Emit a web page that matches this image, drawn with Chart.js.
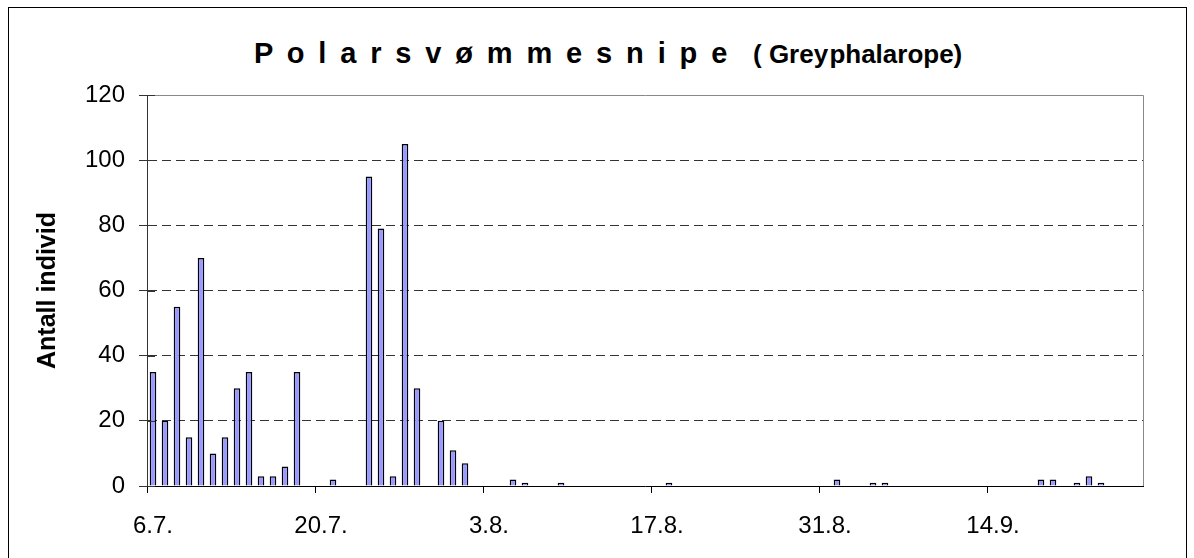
<!DOCTYPE html>
<html>
<head>
<meta charset="utf-8">
<script src="https://cdn.jsdelivr.net/npm/chart.js@4/dist/chart.umd.min.js"></script>
<style>
    body { margin: 0; background: #fff; font-family: 'Liberation Sans', Arial, sans-serif; }
    #frame { position: absolute; left: 8px; top: 7px; width: 1177px; height: 600px; border: 1px solid #000; }
    #wrap { position: absolute; left: 0; top: 0; width: 1194px; height: 558px; }
    .t-main { position: absolute; left: 254px; top: 39px; font-size: 29px; line-height: 29px; font-weight: bold; letter-spacing: 2.9px; white-space: pre; }
    .t-sub { position: absolute; left: 753px; top: 41px; font-size: 26px; line-height: 26px; font-weight: bold; white-space: pre; }
</style>
</head>
<body>
<div id="frame"></div>
<div class="t-main">P o l a r s v ø m m e s n i p e</div>
<div class="t-sub">( Grey <span style="margin-left:-6px">phalarope)</span></div>
<div id="wrap"><canvas id="chart" width="1194" height="558"></canvas></div>
<script>
// observation dates (d.m.) and number of birds counted
const obsDates = ['6.7.', '7.7.', '8.7.', '9.7.', '10.7.', '11.7.', '12.7.', '13.7.', '14.7.', '15.7.',
    '16.7.', '17.7.', '18.7.', '21.7.', '24.7.', '25.7.', '26.7.', '27.7.', '28.7.', '30.7.',
    '31.7.', '1.8.', '5.8.', '6.8.', '9.8.', '18.8.', '1.9.', '4.9.', '5.9.', '18.9.',
    '19.9.', '21.9.', '22.9.', '23.9.'];
const counts = [35, 20, 55, 15, 70, 10, 15, 30, 35, 3,
    3, 6, 35, 2, 95, 79, 3, 105, 30, 20,
    11, 7, 2, 1, 1, 1, 2, 1, 1, 2,
    2, 1, 3, 1];

const tickLabels = ['6.7.', '20.7.', '3.8.', '17.8.', '31.8.', '14.9.'];
const tickDays = [0, 14, 28, 42, 56, 70];
const axisDays = 83; // 6.7. - 27.9.
const yTicks = [0, 20, 40, 60, 80, 100, 120];

function dayOffset(s) {
    const [d, m] = s.split('.').map(Number);
    const start = Date.UTC(2001, 6, 6);
    return Math.round((Date.UTC(2001, m - 1, d) - start) / 86400000);
}

const points = obsDates.map((d, i) => ({x: dayOffset(d) + 0.5, y: counts[i]}));

const framePlugin = {
    id: 'frame',
    afterDraw(chart) {
        const {ctx, chartArea: a, scales} = chart;
        ctx.save();
        ctx.strokeStyle = '#888';
        ctx.lineWidth = 1;
        ctx.beginPath();
        ctx.moveTo(a.left, a.top + 0.5);
        ctx.lineTo(a.right + 0.5, a.top + 0.5);
        ctx.lineTo(a.right + 0.5, a.bottom);
        ctx.stroke();
        // inner half of the y tick marks
        ctx.strokeStyle = '#333';
        ctx.beginPath();
        scales.y.ticks.forEach(t => {
            const py = Math.round(scales.y.getPixelForValue(t.value)) + 0.5;
            ctx.moveTo(a.left, py);
            ctx.lineTo(a.left + 8, py);
        });
        ctx.stroke();
        ctx.restore();
    }
};

Chart.defaults.font.family = "'Liberation Sans', Arial, sans-serif";
Chart.defaults.color = '#000';

new Chart(document.getElementById('chart').getContext('2d'), {
    type: 'bar',
    data: {
        datasets: [{
            data: points,
            backgroundColor: '#9999ff',
            borderColor: '#000',
            borderWidth: 1.5,
            barPercentage: 0.55,
            categoryPercentage: 1
        }]
    },
    options: {
        responsive: false,
        animation: false,
        layout: { padding: {top: 95, right: 51, left: 0, bottom: 0} },
        plugins: { legend: {display: false}, tooltip: {enabled: false}, title: {display: false} },
        scales: {
            x: {
                type: 'linear',
                min: 0,
                max: axisDays,
                offset: false,
                afterFit: s => { s.height = 72; },
                afterBuildTicks: s => { s.ticks = tickDays.map(v => ({value: v})); },
                ticks: {
                    font: {size: 24},
                    padding: 19,
                    labelOffset: 6,
                    maxRotation: 0,
                    autoSkip: false,
                    callback: (v) => tickLabels[tickDays.indexOf(v)] || ''
                },
                grid: { offset: false, drawOnChartArea: false, color: '#000', tickLength: 7 },
                border: { color: '#000', width: 1 }
            },
            y: {
                min: 0,
                max: 120,
                afterFit: s => { s.width = 147; },
                afterBuildTicks: s => { s.ticks = yTicks.map(v => ({value: v})); },
                ticks: { font: {size: 24}, padding: 14 },
                grid: {
                    color: ctx => (ctx.tick && (ctx.tick.value === 0 || ctx.tick.value === 120)) ? 'rgba(0,0,0,0)' : '#333',
                    tickColor: '#333',
                    tickLength: 8,
                    lineWidth: 1
                },
                border: { color: '#333', width: 1, dash: [9, 5] },
                title: {
                    display: true,
                    text: 'Antall individ',
                    font: {size: 25, weight: 'bold'},
                    padding: {top: 33, bottom: 0}
                }
            }
        }
    },
    plugins: [framePlugin]
});
</script>
</body>
</html>
